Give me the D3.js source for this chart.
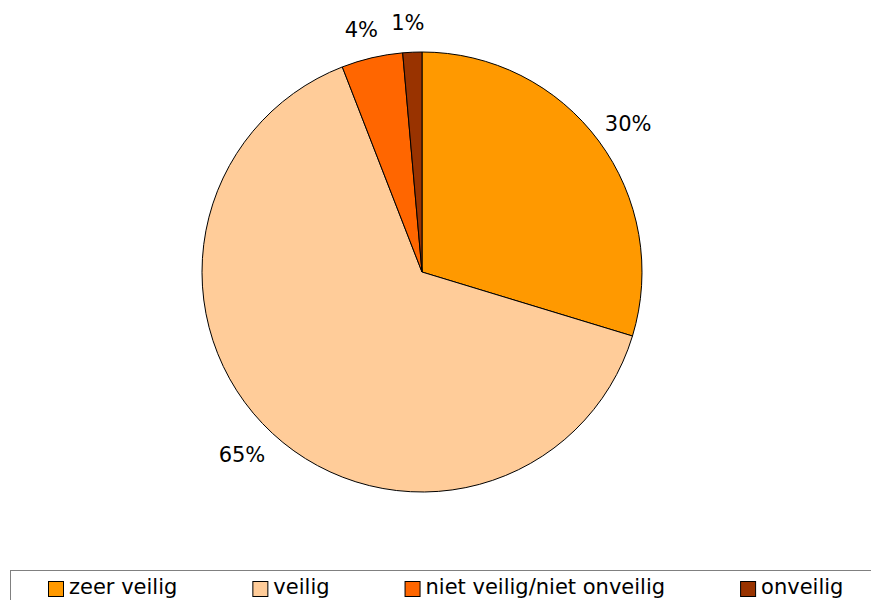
<!DOCTYPE html>
<html>
<head>
<meta charset="utf-8">
<script src="https://cdn.jsdelivr.net/npm/d3@7"></script>
<style>
  body { margin: 0; background: #fff; }
  svg { display: block; }
  text { font-family: "DejaVu Sans", Verdana, sans-serif; fill: #000; }
</style>
</head>
<body>
<svg width="871" height="600"></svg>
<script>
// categories and shares (percent)
var categories = ["zeer veilig", "veilig", "niet veilig/niet onveilig", "onveilig"];
var values = [29.7, 64.4, 4.5, 1.4];
var labels = ["30%", "65%", "4%", "1%"];
var colors = ["#FF9900", "#FFCC99", "#FF6600", "#993300"];

function draw_chart() {
    var svg = d3.select("svg");
    var cx = 422, cy = 272, radius = 220;

    var data = categories.map(function (c, i) {
        return { name: c, value: values[i], label: labels[i], color: colors[i] };
    });

    var pie = d3.pie()
        .sort(null)
        .value(function (d) { return d.value; });

    var arc = d3.arc()
        .innerRadius(0)
        .outerRadius(radius);

    var g = svg.append("g")
        .attr("transform", "translate(" + cx + "," + cy + ")");

    var arcs = pie(data);

    g.selectAll("path")
        .data(arcs)
        .enter().append("path")
        .attr("d", arc)
        .attr("fill", function (d) { return d.data.color; })
        .attr("stroke", "#000")
        .attr("stroke-width", 1);

    // labels outside the slices, like excel "outside end"
    var gap = 17;
    g.selectAll("text.lbl")
        .data(arcs)
        .enter().append("text")
        .attr("class", "lbl")
        .style("font-size", "21px")
        .attr("text-anchor", "middle")
        .attr("dominant-baseline", "central")
        .text(function (d) { return d.data.label; })
        .each(function (d) {
            var a = (d.startAngle + d.endAngle) / 2;
            var dx = Math.sin(a), dy = -Math.cos(a);
            var bb = this.getBBox();
            var x = dx * (radius + gap + bb.width / 2) - 3;
            var y = dy * (radius + gap + bb.height / 2);
            d3.select(this).attr("x", x).attr("y", y);
        });

    // legend box at the bottom (cut by the picture edge)
    svg.append("rect")
        .attr("x", 10.5)
        .attr("y", 570.5)
        .attr("width", 900)
        .attr("height", 60)
        .attr("fill", "#fff")
        .attr("stroke", "#808080")
        .attr("stroke-width", 1);

    var cursor = 48;
    data.forEach(function (d) {
        var item = svg.append("g").attr("transform", "translate(" + cursor + ",0)");
        item.append("rect")
            .attr("x", 0.5)
            .attr("y", 581.5)
            .attr("width", 15)
            .attr("height", 15)
            .attr("fill", d.color)
            .attr("stroke", "#000");
        var t = item.append("text")
            .attr("x", 21)
            .attr("y", 594)
            .style("font-size", "21px")
            .text(d.name);
        cursor += 21 + t.node().getComputedTextLength() + 75;
    });
}

draw_chart();
</script>
</body>
</html>
